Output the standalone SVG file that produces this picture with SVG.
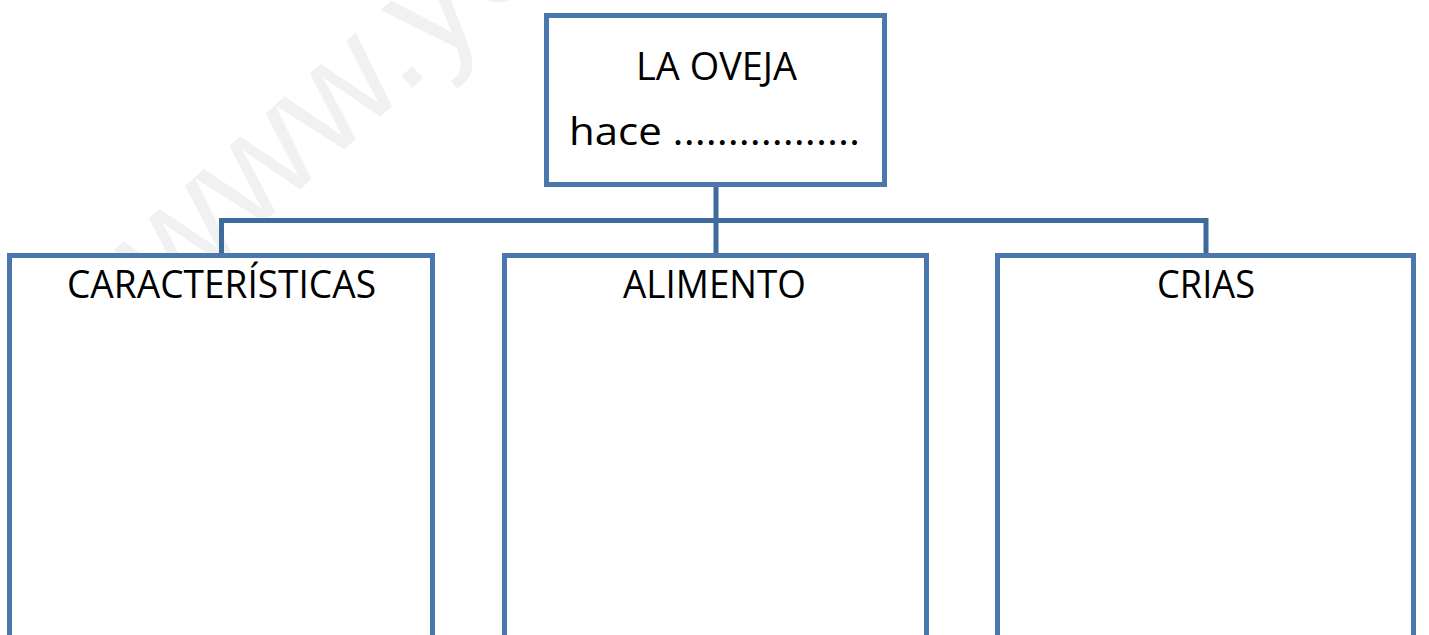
<svg xmlns="http://www.w3.org/2000/svg" width="1429" height="635" viewBox="0 0 1429 635">
<style>
  .box { fill: #ffffff; stroke: #4a77ac; stroke-width: 5; }
  .conn { fill: none; stroke: #3e6a9c; stroke-width: 5; }
  .lbl { font-family: "Open Sans", "Liberation Sans", sans-serif; font-size: 38px; fill: #000000; }
  .wm { font-family: "Liberation Sans", sans-serif; font-size: 150px; fill: #f1f1f1; }
</style>
<rect width="1429" height="635" fill="#ffffff"/>
<text class="wm" transform="translate(167,309) rotate(-42)">www.yo</text>
<g id="connectors">
  <path class="conn" d="M716,185 V255 M221.5,255 V220.5 H1206 V255"/>
</g>
<g id="node-oveja">
  <rect class="box" x="546.5" y="15.5" width="338" height="169"/>
  <text class="lbl" x="636" y="80" textLength="161" lengthAdjust="spacingAndGlyphs">LA OVEJA</text>
  <text class="lbl" x="569" y="145" textLength="291" lengthAdjust="spacingAndGlyphs">hace .................</text>
</g>
<g id="node-caracteristicas">
  <rect class="box" x="9.5" y="255.5" width="423" height="420"/>
  <text class="lbl" x="67" y="298" textLength="309" lengthAdjust="spacingAndGlyphs">CARACTERÍSTICAS</text>
</g>
<g id="node-alimento">
  <rect class="box" x="504.5" y="255.5" width="422" height="420"/>
  <text class="lbl" x="623" y="298" textLength="183" lengthAdjust="spacingAndGlyphs">ALIMENTO</text>
</g>
<g id="node-crias">
  <rect class="box" x="997.5" y="255.5" width="416" height="420"/>
  <text class="lbl" x="1157" y="298" textLength="98" lengthAdjust="spacingAndGlyphs">CRIAS</text>
</g>
</svg>
